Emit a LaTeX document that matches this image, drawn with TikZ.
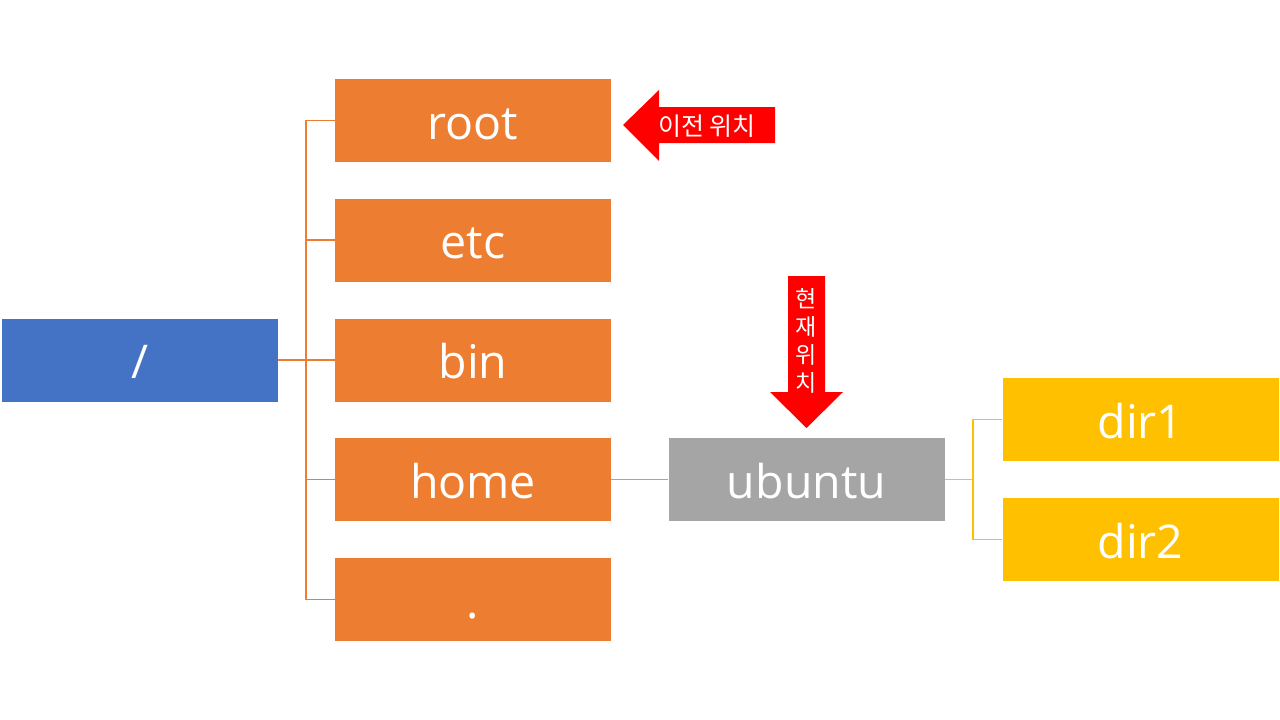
\documentclass[tikz,border=0pt]{standalone}
\usepackage{fontspec}
\setmainfont{Open Sans}
\newfontfamily\krfont{Noto Sans CJK KR}
\usepackage{tikz}
\usetikzlibrary{calc}
\definecolor{dBlue}{HTML}{4472C4}
\definecolor{dOrange}{HTML}{ED7D31}
\definecolor{dGray}{HTML}{A5A5A5}
\definecolor{dGold}{HTML}{FFC000}
\definecolor{dRed}{HTML}{FF0000}
\pgfdeclarelayer{background}
\pgfsetlayers{background,main}

\begin{document}
\begin{tikzpicture}[x=1pt, y=-1pt]

    \useasboundingbox (0, 0) rectangle (1280, 720);

    % Directory boxes
    \tikzset{dir/.style={shape = rectangle, inner sep = 0pt, minimum width = 276pt, minimum height = 83pt, text = white, font = \fontsize{46.5}{52}\selectfont, text height = 41pt, text depth = 4pt}}
    \tikzset{dR/.style={dir, fill = dBlue}}
    \tikzset{dO/.style={dir, fill = dOrange}}
    \tikzset{dG/.style={dir, fill = dGray}}
    \tikzset{dY/.style={dir, fill = dGold}}

    % Branches
    \tikzset{bO/.style={draw = dOrange, line width = 1.2pt}}
    \tikzset{bG/.style={draw = dGray, line width = 1.2pt}}
    \tikzset{bY/.style={draw = dGold, line width = 1.2pt}}

    % Marker arrows
    \tikzset{mk/.style={fill = dRed}}
    \tikzset{mkT/.style={text = white, inner sep = 0pt, font = \krfont\fontsize{25}{28}\selectfont, align = center}}

    % Tree nodes
    \node (slash) [dR] at (140, 360) {/};
    	\node (root) [dO] at (473, 120.5) {root};
    	\node (etc) [dO] at (473, 240) {etc};
    	\node (bin) [dO] at (473, 360) {bin};
    	\node (home) [dO] at (473, 479.5) {home};
    		\node (ubuntu) [dG] at (806.5, 479.5) {ubuntu};
    			\node (dir1) [dY] at (1140.5, 419.5) {dir1};
    			\node (dir2) [dY] at (1140.5, 539.5) {dir2};
    	\node (dot) [dO] at (473, 599.5) {.};

    % Junctions
    \coordinate (jO) at (306, 360);
    \coordinate (jY) at (973, 479.5);

    % Marker arrows
    \fill[mk] (623, 125) -- (659, 90) -- (659, 107) -- (775, 107) -- (775, 143) -- (659, 143) -- (659, 161) -- cycle;
    \node (prev) [mkT] at (707, 126) {이전 위치};
    \fill[mk] (806.5, 428) -- (770, 392) -- (788, 392) -- (788, 276) -- (825, 276) -- (825, 392) -- (843, 392) -- cycle;
    \node (cur) [mkT, font = \krfont\fontsize{23}{28}\selectfont] at (806.5, 341) {현\\재\\위\\치};

    % Background image
    \begin{pgfonlayer}{background}

    	% Directory tree
    	\path[bO] (slash.east) -- (jO);
    	\foreach \n in {root, etc, bin, home, dot}
    		\path[bO] (\n.west) -| (jO);
    		\path[bG] (home.east) -- (ubuntu.west);
    			\path[bY] (ubuntu.east) -- (jY);
    			\path[bY] (dir1.west) -| (jY);
    			\path[bY] (dir2.west) -| (jY);

    \end{pgfonlayer}

\end{tikzpicture}
\end{document}
